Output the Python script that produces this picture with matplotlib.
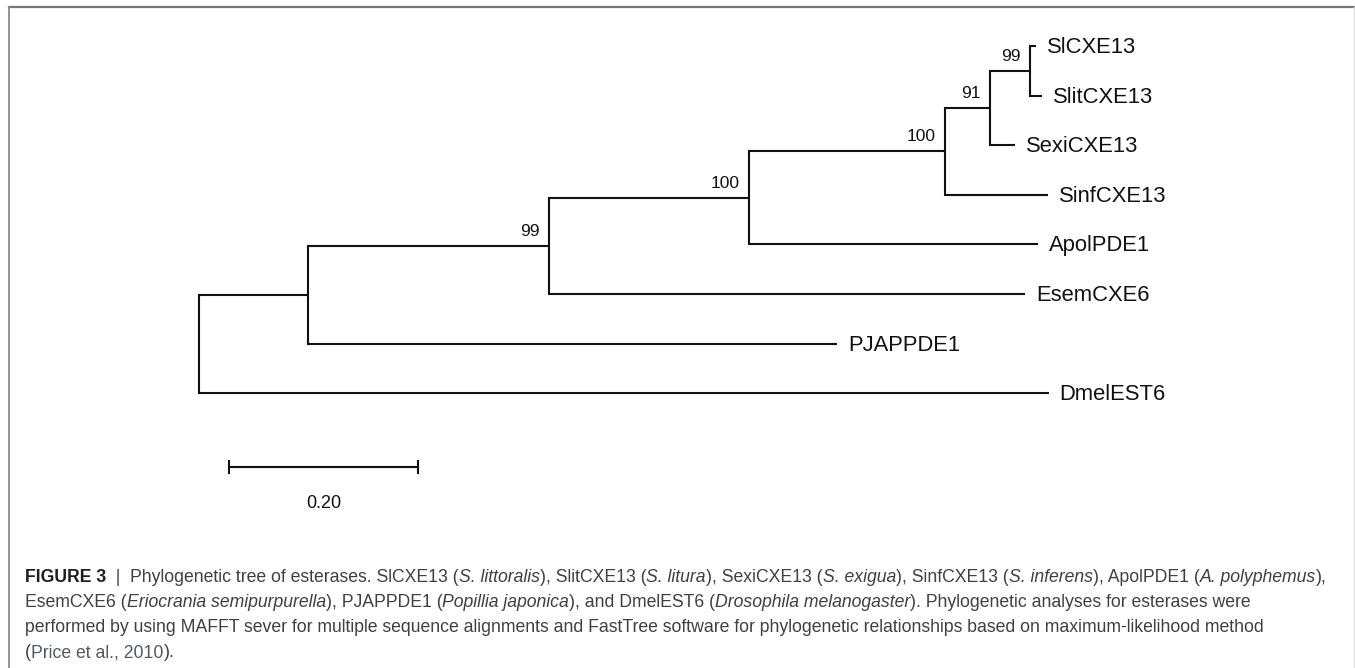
import matplotlib
matplotlib.use('Agg')
import matplotlib.pyplot as plt
from matplotlib import font_manager
from matplotlib.lines import Line2D

# tree topology: children listed top to bottom
children = {
    'root': ['n1', 'DmelEST6'],
    'n1': ['n2', 'PJAPPDE1'],
    'n2': ['n3', 'EsemCXE6'],
    'n3': ['n4', 'ApolPDE1'],
    'n4': ['n5', 'SinfCXE13'],
    'n5': ['n6', 'SexiCXE13'],
    'n6': ['SlCXE13', 'SlitCXE13'],
}
# branch lengths (substitutions per site)
branch_length = {
    'n1': 0.115, 'DmelEST6': 0.899,
    'n2': 0.255, 'PJAPPDE1': 0.560,
    'n3': 0.212, 'EsemCXE6': 0.504,
    'n4': 0.207, 'ApolPDE1': 0.306,
    'n5': 0.048, 'SinfCXE13': 0.109,
    'n6': 0.042, 'SexiCXE13': 0.026,
    'SlCXE13': 0.007, 'SlitCXE13': 0.013,
}
# bootstrap support
support = {'n2': 99, 'n3': 100, 'n4': 100, 'n5': 91, 'n6': 99}
scale_value = 0.20

caption = [
    [('FIGURE 3', 'bold'), ('  |  ', 'bar'), ('Phylogenetic tree of esterases. SlCXE13 (', 'n'),
     ('S. littoralis', 'i'), ('), SlitCXE13 (', 'n'), ('S. litura', 'i'), ('), SexiCXE13 (', 'n'),
     ('S. exigua', 'i'), ('), SinfCXE13 (', 'n'), ('S. inferens', 'i'), ('), ApolPDE1 (', 'n'),
     ('A. polyphemus', 'i'), ('),', 'n')],
    [('EsemCXE6 (', 'n'), ('Eriocrania semipurpurella', 'i'), ('), PJAPPDE1 (', 'n'),
     ('Popillia japonica', 'i'), ('), and DmelEST6 (', 'n'), ('Drosophila melanogaster', 'i'),
     ('). Phylogenetic analyses for esterases were', 'n')],
    [('performed by using MAFFT sever for multiple sequence alignments and FastTree software '
      'for phylogenetic relationships based on maximum-likelihood method', 'n')],
    [('(', 'n'), ('Price et al., 2010', 'link'), (').', 'n')],
]

W, H = 1355, 668
names = {f.name for f in font_manager.fontManager.ttflist}
narrow = 'Liberation Sans Narrow' if 'Liberation Sans Narrow' in names else 'Liberation Sans'

# positions of the nodes
xpos, ypos = {'root': 0.0}, {}
leaf_order = []


def walk(node):
    for c in children.get(node, []):
        xpos[c] = xpos[node] + branch_length[c]
        walk(c)
    if node not in children:
        ypos[node] = len(leaf_order)
        leaf_order.append(node)
    else:
        kids = children[node]
        ypos[node] = (ypos[kids[0]] + ypos[kids[-1]]) / 2


walk('root')

fig = plt.figure(figsize=(W / 100, H / 100), dpi=100)
ax = fig.add_axes([0, 0, 1, 1])
upp = scale_value / 189.0          # tree units per pixel
ax.set_xlim(-199 * upp, (W - 199) * upp)
ax.set_ylim((H - 46) / 49.6, -46 / 49.6)
ax.axis('off')

lw = 1.5
col = '#111111'
for node, kids in children.items():
    ax.plot([xpos[node], xpos[node]], [ypos[kids[0]], ypos[kids[-1]]], color=col, lw=lw,
            solid_capstyle='projecting')
    for c in kids:
        ax.plot([xpos[node], xpos[c]], [ypos[c], ypos[c]], color=col, lw=lw,
                solid_capstyle='butt')

for leaf in leaf_order:
    ax.annotate(leaf, (xpos[leaf], ypos[leaf]), xytext=(11, -7), textcoords='offset pixels',
                ha='left', va='baseline', fontsize=15.8, family='Liberation Sans', color='#111111')

for node, v in support.items():
    ax.annotate(str(v), (xpos[node], ypos[node]), xytext=(-9, 10), textcoords='offset pixels',
                ha='right', va='baseline', fontsize=12.5, family=narrow, color='#111111')

# scale bar
sb_x = 30 * upp
sb_y = (467 - 46) / 49.6
ax.plot([sb_x, sb_x + scale_value], [sb_y, sb_y], color=col, lw=lw)
for xx in (sb_x, sb_x + scale_value):
    ax.plot([xx, xx], [sb_y - 0.13, sb_y + 0.13], color=col, lw=lw)
ax.text(sb_x + scale_value / 2, sb_y + 0.73, '%.2f' % scale_value, ha='center', va='center',
        fontsize=13, family=narrow, color='#111111')

# frame of the figure panel
fig.add_artist(Line2D([9 / W, 1], [1 - 7 / H, 1 - 7 / H], transform=fig.transFigure, color='#777777', lw=1.6))
fig.add_artist(Line2D([9 / W, 9 / W], [0, 1 - 7 / H], transform=fig.transFigure, color='#8a8a8a', lw=1.3))
fig.add_artist(Line2D([1354 / W, 1354 / W], [0, 1 - 7 / H], transform=fig.transFigure, color='#dddddd', lw=1.0))

# caption
renderer = fig.canvas.get_renderer()
styles = {
    'n': dict(color='#404040'),
    'i': dict(color='#404040', style='italic'),
    'bold': dict(color='#1e1e1e', weight='bold'),
    'bar': dict(color='#404040'),
    'link': dict(color='#505a66'),
}


def draw_line(parts, x0, y0, size):
    x = x0
    for s, st in parts:
        t = fig.text(x / W, 1 - y0 / H, s, fontsize=size, family=narrow, va='baseline', **styles[st])
        x += t.get_window_extent(renderer).width
    return x


# fit the first line to its width in the picture
probe = draw_line(caption[0], 25, -100, 10) - 25
for t in list(fig.texts):
    t.remove()
size = 10 * 1305 / probe
baselines = [582, 607, 632, 657]
for parts, yb in zip(caption, baselines):
    draw_line(parts, 25, yb, size)

fig.savefig('out.png', dpi=100)
